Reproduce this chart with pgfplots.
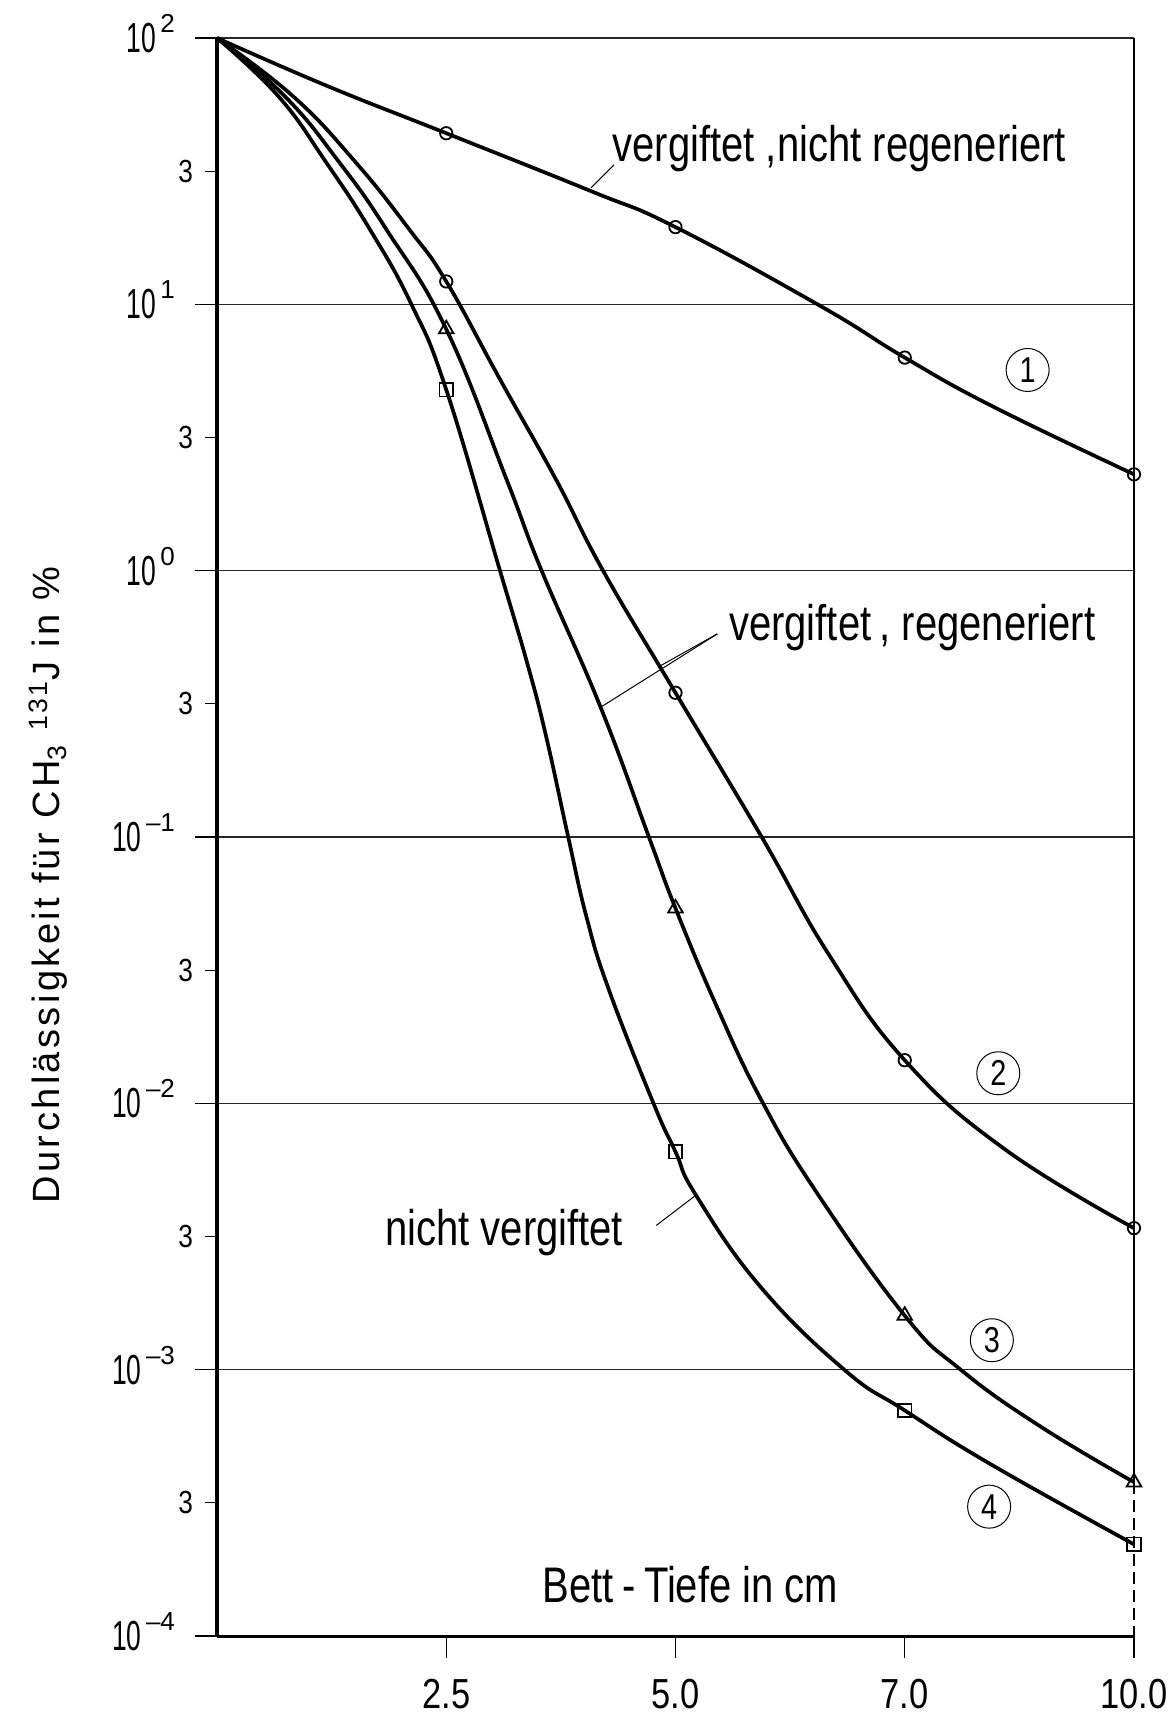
\documentclass[border=0pt]{standalone}
\usepackage{fontspec}
\setmainfont{Liberation Sans}[FakeStretch=0.8]
\newfontfamily\labelfont{Liberation Sans}[LetterSpace=9]
\newfontfamily\decfont{Liberation Sans}[FakeStretch=0.63]
\newfontfamily\xnumfont{Liberation Sans}[FakeStretch=0.82]
\newfontfamily\expfont{Liberation Sans}
\usepackage{pgfplots}
\pgfplotsset{compat=1.18}

% decade label: "10" with a raised exponent that does not add height
\newcommand{\dec}[1]{10\hspace{2.2pt}\smash{\raisebox{10pt}{\expfont\fontsize{13}{13}\selectfont #1}}}
\newcommand{\circnum}[1]{node[circle, draw, line width=0.5pt, minimum size=21.5pt, inner sep=0pt,
  font=\fontsize{18}{18}\selectfont] {#1}}
\pgfplotsset{curve/.style={line width=1.85pt, smooth, tension=0.75}}

\begin{document}
\begin{tikzpicture}
\useasboundingbox (-108.5pt,-39.5pt) rectangle (476pt,818pt);
\begin{axis}[
  at={(0pt,0pt)}, anchor=south west,
  scale only axis, width=458.5pt, height=799pt,
  xmin=0, xmax=10, ymode=log, ymin=1e-4, ymax=1e2,
  axis x line*=bottom, axis y line*=left,
  x axis line style={-, line width=1.5pt},
  y axis line style={-, line width=1.8pt},
  clip=false,
  tick align=outside,
  major tick length=11pt,
  yminorticks=false,
  xtick={2.5,5,7.5,10},
  xticklabels={2.5,5.0,7.0,10.0},
  ytick={1e-4,1e-3,1e-2,1e-1,1,10,100},
  yticklabels={\dec{\textendash4},\dec{\textendash3},\dec{\textendash2},\dec{\textendash1},\dec{0},\dec{1},\dec{2}},
  extra y ticks={3.1623e-4,3.1623e-3,3.1623e-2,0.31623,3.1623,31.623},
  extra y tick labels={3,3,3,3,3,3},
  extra y tick style={major tick length=6pt, grid=none,
    yticklabel style={xshift=4pt, font=\xnumfont\fontsize{16}{16}\selectfont}},
  ymajorgrids,
  grid style={line width=0.6pt, black!85},
  tick style={line width=0.6pt, black},
  xticklabel style={font=\xnumfont\fontsize{21}{21}\selectfont, yshift=-7pt},
  yticklabel style={font=\decfont\fontsize{21}{21}\selectfont, xshift=-6.5pt},
]

% right border at 10 cm: thin, broken towards the bottom
\draw[line width=0.6pt] (axis cs:10,100) -- (axis cs:10,3.8e-4);
\draw[line width=0.6pt, dash pattern=on 6pt off 3pt] (axis cs:10,3.8e-4) -- (axis cs:10,1e-4);

% (1) vergiftet, nicht regeneriert
\addplot[curve] coordinates {
  (0,100) (1.2,66.1) (2.5,43.9) (4.08,26.6) (5,19.5)
  (6.6,9.77) (7.5,6.31) (8.47,4.12) (10,2.30)};
% (2) vergiftet, regeneriert
\addplot[curve] coordinates {
  (0,100) (0.83,60.4) (1.52,33.9) (2.10,19.05) (2.5,12.19)
  (3.09,5.20) (3.70,2.19) (4.21,1.0) (5,0.348) (5.94,0.1)
  (6.67,0.0363) (7.5,0.01452) (8.59,0.00673) (10,0.00340)};
% (3) vergiftet, regeneriert
\addplot[curve] coordinates {
  (0,100) (0.74,60.4) (1.34,33.9) (1.85,19.05) (2.5,8.07)
  (3.16,2.19) (3.54,1.0) (4.18,0.309) (4.71,0.1) (5,0.0540)
  (5.45,0.0231) (5.94,0.01023) (6.53,0.00468) (7.5,0.001596)
  (8.11,0.001) (8.97,0.000615) (10,0.000378)};
% (4) nicht vergiftet
\addplot[curve] coordinates {
  (0,100) (0.67,60.4) (1.196,33.9) (1.67,19.05) (2.12,10.0) (2.5,4.78)
  (3.086,1.0) (3.395,0.4345) (3.595,0.2339) (3.83,0.1) (4.03,0.05)
  (4.27,0.0269) (4.76,0.01) (5,0.00658) (5.22,0.00454) (5.92,0.00206)
  (6.84,0.001) (7.5,0.000703) (8.44,0.000441) (10,0.000221)};

% measured points
\addplot[only marks, mark=o, mark size=3.1pt, mark options={line width=0.9pt, fill=white}]
  coordinates {(2.5,43.9) (5,19.5) (7.5,6.31) (10,2.30)};
\addplot[only marks, mark=o, mark size=3.1pt, mark options={line width=0.9pt, fill=white}]
  coordinates {(2.5,12.19) (5,0.348) (7.5,0.01452) (10,0.00340)};
\addplot[only marks, mark=triangle, mark size=4.2pt, mark options={line width=0.9pt, fill=white}]
  coordinates {(2.5,8.07) (5,0.0540) (7.5,0.001596) (10,0.000378)};
\addplot[only marks, mark=square, mark size=3.4pt, mark options={line width=0.9pt, fill=white}]
  coordinates {(2.5,4.78) (5,0.00658) (7.5,0.000703) (10,0.000221)};

% annotations
\begin{scope}[font=\fontsize{25}{25}\selectfont]
\node[anchor=base west, inner sep=0pt] at (axis cs:4.31,34.3) {vergiftet ,nicht regeneriert};
\draw[line width=0.5pt] (axis cs:4.33,33.4) -- (axis cs:4.08,27.4);
\node[anchor=base west, inner sep=0pt] at (axis cs:5.58,0.549) {vergiftet\,, regeneriert};
\draw[line width=0.5pt] (axis cs:5.456,0.579) -- (axis cs:4.81,0.4345);
\draw[line width=0.5pt] (axis cs:5.456,0.579) -- (axis cs:4.196,0.309);
\node[anchor=base west, inner sep=0pt] at (axis cs:1.83,0.00293) {nicht vergiftet};
\draw[line width=0.5pt] (axis cs:4.79,0.00348) -- (axis cs:5.23,0.00454);
\node[anchor=base west, inner sep=0pt] at (axis cs:3.55,1.336e-4) {Bett\,-\,Tiefe in cm};
\end{scope}

\path (axis cs:8.84,5.67) \circnum{1};
\path (axis cs:8.52,0.01297) \circnum{2};
\path (axis cs:8.45,0.00129) \circnum{3};
\path (axis cs:8.42,0.000306) \circnum{4};

\node[rotate=90, font=\labelfont\fontsize{19}{19}\selectfont] at (axis cs:-1.843,0.066)
  {Durchlässigkeit für CH\textsubscript{3} \textsuperscript{131}J in \%};
\end{axis}
\end{tikzpicture}
\end{document}
